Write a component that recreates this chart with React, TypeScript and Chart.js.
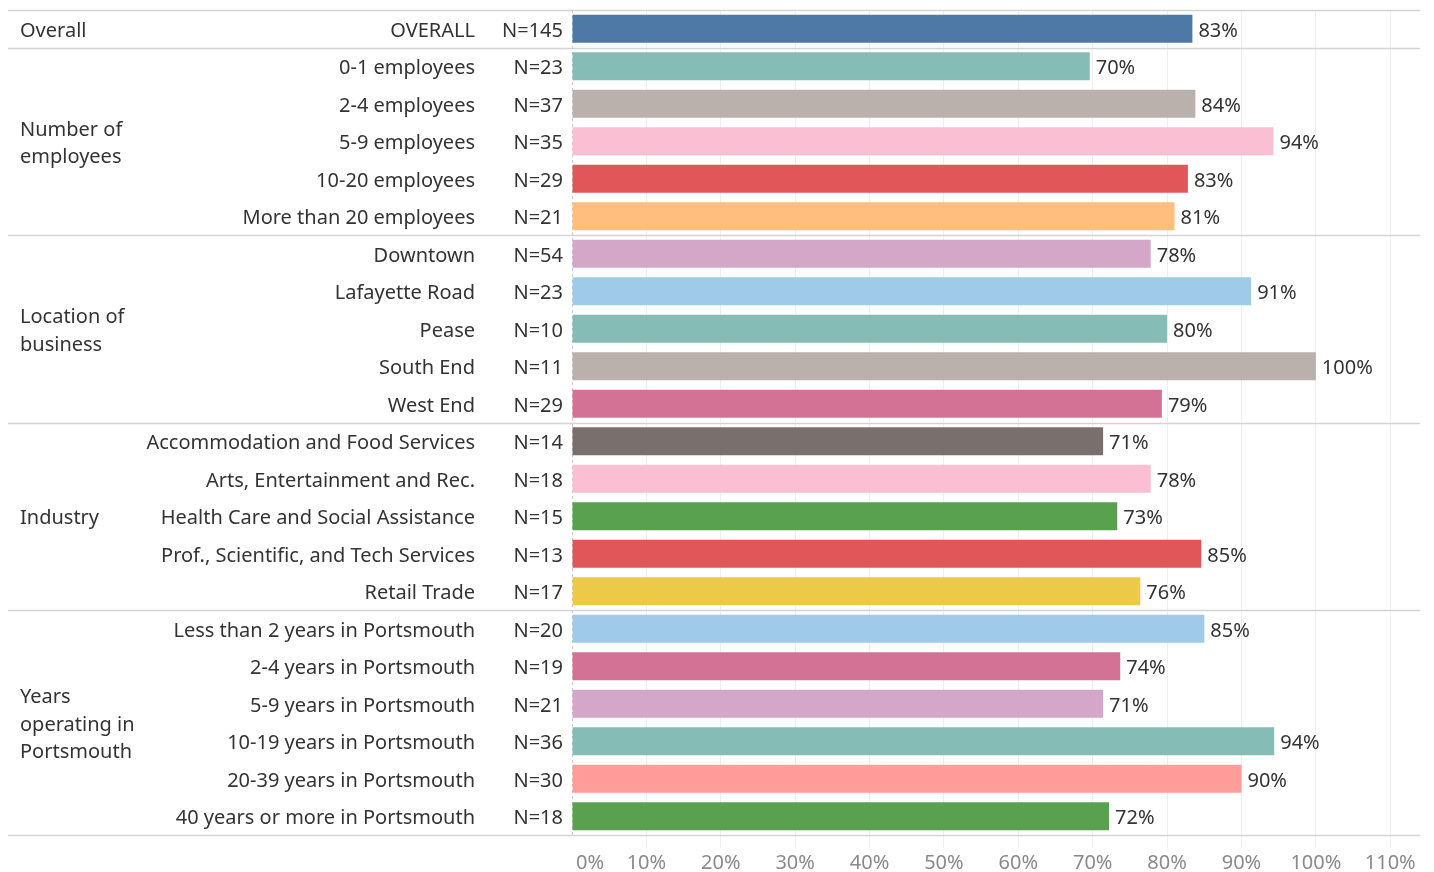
import React, { useEffect, useRef } from "react";
import { Chart, registerables } from "chart.js";

Chart.register(...registerables);

const categories = [
  "OVERALL",
  "0-1 employees",
  "2-4 employees",
  "5-9 employees",
  "10-20 employees",
  "More than 20 employees",
  "Downtown",
  "Lafayette Road",
  "Pease",
  "South End",
  "West End",
  "Accommodation and Food Services",
  "Arts, Entertainment and Rec.",
  "Health Care and Social Assistance",
  "Prof., Scientific, and Tech Services",
  "Retail Trade",
  "Less than 2 years in Portsmouth",
  "2-4 years in Portsmouth",
  "5-9 years in Portsmouth",
  "10-19 years in Portsmouth",
  "20-39 years in Portsmouth",
  "40 years or more in Portsmouth",
];

const nCounts = [145, 23, 37, 35, 29, 21, 54, 23, 10, 11, 29, 14, 18, 15, 13, 17, 20, 19, 21, 36, 30, 18];

const values = [83.4, 69.6, 83.8, 94.3, 82.8, 81.0, 77.8, 91.3, 80.0, 100.0, 79.3, 71.4, 77.8, 73.3, 84.6, 76.4, 85.0, 73.7, 71.4, 94.4, 90.0, 72.2];

const barColors = [
  "#4e79a7",
  "#86bcb6", "#bab0ac", "#fabfd2", "#e15759", "#ffbe7d",
  "#d4a6c8", "#a0cbe8", "#86bcb6", "#bab0ac", "#d37295",
  "#79706e", "#fabfd2", "#59a14f", "#e15759", "#edc948",
  "#a0cbe8", "#d37295", "#d4a6c8", "#86bcb6", "#ff9d9a", "#59a14f",
];

const groupLabels = [
  ["Overall"],
  ["Number of", "employees"],
  ["Location of", "business"],
  ["Industry"],
  ["Years", "operating in", "Portsmouth"],
];
const groupSizes = [1, 5, 5, 5, 6];

const xTicks = [0, 10, 20, 30, 40, 50, 60, 70, 80, 90, 100, 110];

const FONT = '"Noto Sans", "DejaVu Sans", sans-serif';
const TY = 2.5;

const tablePlugin = {
  id: "tablePlugin",
  beforeDatasetsDraw(chart: any) {
    const { ctx, chartArea, scales } = chart;
    const y = scales.y;
    const x = scales.x;
    ctx.save();
    ctx.strokeStyle = "#d4d4d4";
    ctx.lineWidth = 1.5;
    let start = 0;
    const bounds: number[] = [y.getPixelForValue(-0.5)];
    for (const s of groupSizes) {
      start += s;
      bounds.push(y.getPixelForValue(start - 0.5));
    }
    for (const b of bounds) {
      ctx.beginPath();
      ctx.moveTo(8, Math.round(b) + 0.5);
      ctx.lineTo(chartArea.right, Math.round(b) + 0.5);
      ctx.stroke();
    }
    const x0 = Math.round(x.getPixelForValue(0)) + 0.5;
    ctx.strokeStyle = "#c8c8c8";
    ctx.lineWidth = 1;
    ctx.setLineDash([3, 3]);
    ctx.beginPath();
    ctx.moveTo(x0, chartArea.top);
    ctx.lineTo(x0, chartArea.bottom);
    ctx.stroke();
    ctx.restore();
  },
  afterDatasetsDraw(chart: any) {
    const { ctx } = chart;
    const meta = chart.getDatasetMeta(0);
    ctx.save();
    ctx.font = `20px ${FONT}`;
    ctx.fillStyle = "#333333";
    ctx.textAlign = "left";
    ctx.textBaseline = "middle";
    meta.data.forEach((bar: any, i: number) => {
      ctx.fillText(`${Math.round(values[i])}%`, bar.x + 6, bar.y + TY);
    });
    ctx.restore();
  },
  afterDraw(chart: any) {
    const { ctx, scales, chartArea } = chart;
    const y = scales.y;
    const x = scales.x;
    ctx.save();
    ctx.font = `20px ${FONT}`;
    ctx.fillStyle = "#333333";
    ctx.textBaseline = "middle";
    categories.forEach((c, i) => {
      const py = y.getPixelForValue(i) + TY;
      ctx.textAlign = "right";
      ctx.fillText(c, 475, py);
      ctx.fillText(`N=${nCounts[i]}`, 563, py);
    });
    let start = 0;
    groupLabels.forEach((lines, g) => {
      const top = y.getPixelForValue(start - 0.5);
      const bot = y.getPixelForValue(start + groupSizes[g] - 0.5);
      const mid = (top + bot) / 2 + TY;
      const lh = 27.5;
      ctx.textAlign = "left";
      lines.forEach((l, k) => {
        ctx.fillText(l, 20, mid + (k - (lines.length - 1) / 2) * lh);
      });
      start += groupSizes[g];
    });
    ctx.fillStyle = "#8a8a8a";
    ctx.textAlign = "center";
    xTicks.forEach((v) => {
      const px = x.getPixelForValue(v) + (v === 0 ? 18 : 0);
      ctx.fillText(`${v}%`, px, chartArea.bottom + 28);
    });
    ctx.restore();
  },
};

export default function App() {
  const ref = useRef<HTMLCanvasElement | null>(null);
  useEffect(() => {
    if (!ref.current) return;
    const chart = new Chart(ref.current, {
      type: "bar",
      data: {
        labels: categories,
        datasets: [
          {
            data: values,
            backgroundColor: barColors,
            borderWidth: 0,
            barPercentage: 0.75,
            categoryPercentage: 1,
          },
        ],
      },
      options: {
        indexAxis: "y",
        animation: false,
        responsive: true,
        maintainAspectRatio: false,
        layout: { padding: { left: 572, right: 14, top: 10, bottom: 0 } },
        plugins: { legend: { display: false }, tooltip: { enabled: false } },
        scales: {
          x: {
            type: "linear",
            min: 0,
            max: 114,
            afterBuildTicks: (scale: any) => {
              scale.ticks = xTicks.map((v) => ({ value: v }));
            },
            afterFit: (scale: any) => {
              scale.height = 37;
            },
            grid: {
              color: (c: any) => (c.tick && c.tick.value === 0 ? "rgba(0,0,0,0)" : "#eeeeee"),
              lineWidth: 1,
              drawTicks: true,
              tickLength: 13,
            },
            border: { display: false },
            ticks: { display: false },
          },
          y: {
            type: "category",
            display: false,
            grid: { display: false },
          },
        },
      },
      plugins: [tablePlugin],
    });
    return () => chart.destroy();
  }, []);
  return (
    <div style={{ position: "fixed", left: 0, top: 0, width: 1434, height: 872, background: "#fff" }}>
      <canvas ref={ref} />
    </div>
  );
}
